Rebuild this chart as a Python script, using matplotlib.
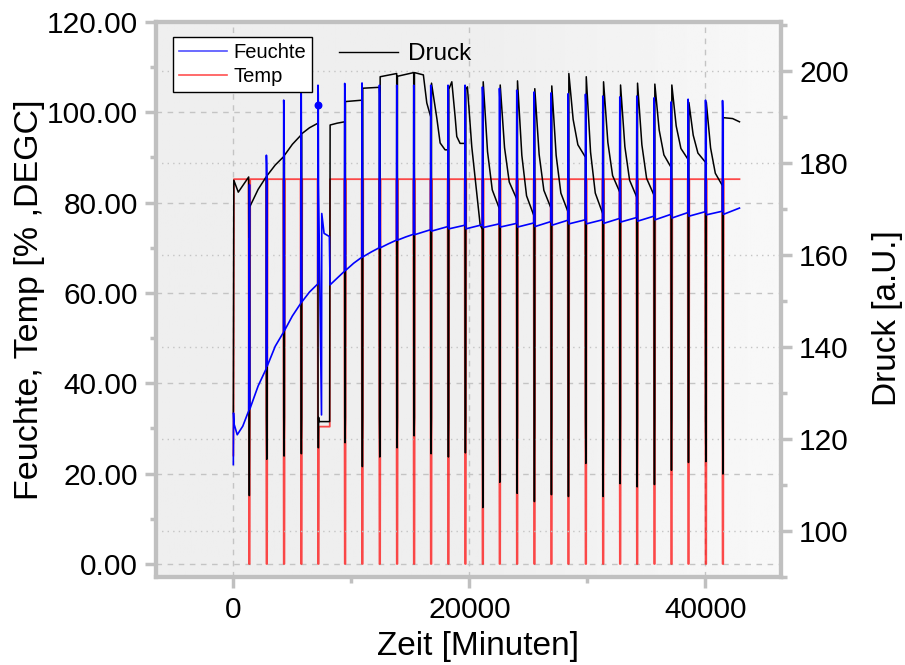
"""
Feuchte / Temp / Druck cycling test, recreated with matplotlib.
Left axis: humidity + temperature, right axis: pressure (a.U.).
"""

import matplotlib
matplotlib.use("Agg")
import matplotlib.pyplot as plt
import numpy as np
from matplotlib.lines import Line2D
from matplotlib.ticker import FormatStrFormatter, MultipleLocator

# ---------------------------------------------------------------------------
# data (time in minutes)
# ---------------------------------------------------------------------------

# daily purge spikes
spike_t = [1356, 2831, 4297, 5763, 7203, 9466, 10932, 12407, 13873, 15314,
           16754, 18220, 19661, 21136, 22576, 24042, 25508, 26949, 28390, 29864,
           31331, 32771, 34212, 35678, 37119, 38560, 40034, 41475]

# Temp [DEGC]
temp_start_t = [0, 20, 50]
temp_start_v = [24.0, 33.0, 85.2]
temp_hold = 85.2
temp_gap_after = 4            # spike index after which the chamber sat at ~30
temp_gap_t = [7250, 8170]
temp_gap_v = 30.4
t_end = 42880

# Feuchte [%] between the spikes
feuchte_t = [0, 15, 60, 330, 800, 1300,
             1400, 2100, 2780,
             2870, 3550, 4250,
             4340, 5000, 5710,
             5800, 6450, 7150,
             7470, 7492, 7687, 8136,
             8195, 8800, 9410,
             9510, 10200, 10880,
             10975, 11700, 12350,
             12450, 13150, 13820,
             13915, 14600, 15260,
             15355, 16700, 16795, 18165, 18260, 19605, 19700, 21080,
             21175, 22520, 22615, 23985, 24080, 25450, 25550, 26890,
             26990, 28335, 28430, 29810, 29905, 31275, 31370, 32715,
             32810, 34155, 34250, 35620, 35720, 37060, 37160, 38505,
             38600, 39980, 40075, 41420, 41515, 42880]
feuchte_v = [22.0, 33.4, 31.0, 28.6, 30.5, 33.9,
             34.3, 39.4, 43.2,
             43.8, 48.2, 51.3,
             51.7, 54.9, 57.7,
             58.0, 60.2, 62.0,
             33.0, 77.6, 73.2, 72.5,
             61.8, 63.3, 64.8,
             65.0, 66.6, 67.9,
             68.0, 69.1, 70.0,
             70.0, 70.9, 71.7,
             71.7, 72.4, 73.0,
             72.9, 74.0, 73.7, 74.7, 74.2, 75.0, 74.2, 75.1,
             74.5, 75.3, 74.6, 75.4, 74.6, 75.5, 74.7, 75.8,
             75.0, 76.1, 75.3, 76.2, 75.3, 76.2, 75.4, 76.5,
             75.7, 76.7, 75.9, 77.0, 76.2, 77.4, 76.6, 77.8,
             77.0, 78.0, 77.3, 78.1, 77.4, 78.8]
feuchte_peak = [72.0, 90.5, 102.7, 106.0, 106.0, 106.4, 106.5, 106.0, 106.0, 106.0,
                106.0, 106.0, 106.0, 105.6, 105.3, 104.9, 104.5, 104.3, 104.1, 104.0,
                103.6, 103.4, 103.6, 103.2, 102.3, 102.9, 102.7, 102.6]
feuchte_low = 84.0
feuchte_dot_t = [7203]
feuchte_dot_v = [101.6]

# Druck [a.U.] between the spikes
druck_t = [0, 40, 420, 900, 1300,
           1390, 2100, 2800,
           2860, 3550, 4255,
           4330, 5000, 5730,
           5795, 6450, 7170,
           7240, 8160, 8200, 8800, 9430,
           9500, 10900,
           10965, 12375,
           12440, 13840,
           13905, 14600, 15280,
           15345, 16100, 16390, 16720,
           16790, 17250, 17520, 17940, 18190,
           18255, 18510, 18790, 18930, 19210, 19630,
           19695, 19830, 20200, 20630, 20910, 21100,
           21170, 21536, 21936, 22540,
           22610, 22976, 23376, 24010,
           24075, 24442, 24842, 25475,
           25540, 25908, 26308, 26915,
           26980, 27349, 27749, 28355,
           28425, 28790, 29190, 29830,
           29900, 30264, 30664, 31300,
           31365, 31731, 32131, 32740,
           32805, 33171, 33571, 34180,
           34245, 34612, 35012, 35645,
           35710, 36078, 36478, 37085,
           37150, 37519, 37919, 38530,
           38595, 38960, 39360, 40000,
           40070, 40434, 40834, 41440,
           41510, 42300, 42880]
druck_v = [125.6, 176.2, 173.6, 175.4, 176.9,
           170.4, 174.2, 177.0,
           177.2, 179.5, 181.3,
           181.6, 184.0, 186.0,
           186.3, 187.6, 188.6,
           123.7, 123.7, 188.2, 188.6, 188.9,
           193.3, 193.6,
           196.2, 196.4,
           198.7, 199.4,
           198.8, 199.2, 199.6,
           199.6, 199.1, 193.0, 190.0,
           197.3, 189.5, 184.3, 182.8, 182.8,
           196.0, 197.6, 190.0, 185.7, 184.2, 184.2,
           196.0, 196.5, 183.5, 173.3, 166.5, 165.5,
           197.6, 182.4, 174.1, 170.0,
           196.9, 183.3, 175.8, 172.1,
           197.8, 181.6, 172.8, 168.4,
           196.1, 181.8, 174.0, 170.1,
           196.7, 181.6, 173.4, 169.3,
           199.4, 189.4, 183.9, 181.2,
           198.7, 182.3, 173.4, 168.9,
           197.6, 184.4, 177.2, 173.6,
           196.9, 183.5, 176.2, 172.5,
           197.3, 183.9, 176.6, 172.9,
           197.1, 187.1, 181.7, 179.0,
           196.9, 188.0, 183.1, 180.7,
           193.1, 186.0, 182.1, 180.1,
           193.2, 183.2, 177.7, 175.0,
           189.8, 189.6, 188.9]
druck_min = [107.6, 115.5, 116.2, 116.7, 118.0, 119.1, 113.9, 116.0, 118.0, 120.6,
             116.7, 116.0, 116.9, 105.0, 110.5, 108.1, 106.3, 107.8, 107.4, 114.6,
             107.4, 110.2, 109.5, 110.0, 113.1, 114.8, 115.0, 112.3]
druck_hold = 124.6

plt.rcParams["font.family"] = ["Liberation Sans", "DejaVu Sans"]


def _merge(base_t, base_v, extra):
    """Sort base points and spike points into one polyline."""
    pts = list(zip(base_t, base_v)) + extra
    pts.sort(key=lambda p: p[0])
    t, v = zip(*pts)
    return np.array(t), np.array(v)


# temperature: holds at 85 and drops to 0 at every spike
temp_pts = list(zip(temp_start_t, temp_start_v))
for i, t in enumerate(spike_t):
    temp_pts += [(t - 70, temp_hold), (t - 25, 0.0), (t + 30, 0.0)]
    if i == temp_gap_after:
        temp_pts += [(temp_gap_t[0], temp_gap_v), (temp_gap_t[1], temp_gap_v),
                     (temp_gap_t[1] + 20, temp_hold)]
    else:
        temp_pts += [(t + 75, temp_hold)]
temp_pts.append((t_end, temp_hold))
temp_t, temp_v = zip(*temp_pts)

# humidity: short overshoot then drop at every spike
f_extra = []
for t, pk in zip(spike_t, feuchte_peak):
    f_extra += [(t - 30, pk), (t - 8, pk - 2.0), (t + 12, feuchte_low)]
f_t, f_v = _merge(feuchte_t, feuchte_v, f_extra)

# pressure: short hold then dip at every spike
d_extra = []
for t, mn in zip(spike_t, druck_min):
    d_extra += [(t - 28, druck_hold), (t, mn), (t + 28, druck_hold)]
d_t, d_v = _merge(druck_t, druck_v, d_extra)

# ---------------------------------------------------------------------------
# figure: three stacked axes in the same box
#   ax_bg  - background, grid, temperature (bottom)
#   ax2    - pressure (middle, right scale)
#   ax     - humidity, ticks, legends (top, left scale)
# ---------------------------------------------------------------------------
XLIM = (-6550, 46400)
YLIM = (-2.9, 120)
YLIM2 = (89.9, 210.6)
rect = [0.1724, 0.1323, 0.6906, 0.8346]

fig = plt.figure(figsize=(9.05, 6.65), dpi=100)
ax_bg = fig.add_axes(rect, zorder=0)
ax = fig.add_axes(rect, zorder=2, sharex=ax_bg, sharey=ax_bg)
ax2 = ax.twinx()
ax2.set_zorder(1)
ax.patch.set_visible(False)
ax2.patch.set_visible(False)

# light grey gradient background, brighter toward the right
xs = np.linspace(0, 1, 256)
grad = np.where(xs < 0.55, 0.937, 0.937 + (xs - 0.55) / 0.45 * 0.036)
ax_bg.imshow(np.tile(grad, (2, 1)), cmap="gray", vmin=0, vmax=1, aspect="auto",
             extent=(0, 1, 0, 1), transform=ax_bg.transAxes, zorder=-1)

ax_bg.plot(temp_t, temp_v, color="#ff0000", lw=1.3, alpha=0.7, zorder=3)
ax2.plot(d_t, d_v, color="black", lw=1.1, zorder=3)
ax.plot(f_t, f_v, color="#0000ff", lw=1.2, zorder=3)
ax.scatter(feuchte_dot_t, feuchte_dot_v, s=22, color="#0000ff", zorder=4)

ax_bg.set_xlim(*XLIM)
ax_bg.set_ylim(*YLIM)
ax2.set_ylim(*YLIM2)

# grids: dashed for the left scale, dotted for the right one
ax_bg.grid(True, which="major", axis="both", color="#c4c4c4", lw=1.0,
           linestyle=(0, (4, 4)))
ax_bg.set_axisbelow(True)
ax2.grid(True, which="major", axis="y", color="#c4c4c4", lw=1.0,
         linestyle=(0, (1, 3)))
ax2.set_axisbelow(True)
ax_bg.tick_params(which="both", left=False, bottom=False,
                  labelleft=False, labelbottom=False)
for s in ax_bg.spines.values():
    s.set_visible(False)

ax.xaxis.set_major_locator(MultipleLocator(20000))
ax.xaxis.set_minor_locator(MultipleLocator(10000))
ax.yaxis.set_major_locator(MultipleLocator(20))
ax.yaxis.set_minor_locator(MultipleLocator(10))
ax.yaxis.set_major_formatter(FormatStrFormatter("%.2f"))
ax2.yaxis.set_major_locator(MultipleLocator(20))
ax2.yaxis.set_minor_locator(MultipleLocator(10))

frame = "#c0c0c0"
for a in (ax, ax2):
    for s in a.spines.values():
        s.set_color(frame)
        s.set_linewidth(3)
    a.tick_params(which="major", direction="out", length=8, width=2.5,
                  color=frame, labelsize=21.5, pad=5)
    a.tick_params(which="minor", direction="out", length=4, width=2.5,
                  color=frame)
ax.tick_params(axis="x", pad=6)

ax.set_xlabel("Zeit [Minuten]", fontsize=24)
ax.xaxis.set_label_coords(0.515, -0.098)
ax.set_ylabel("Feuchte, Temp [% ,DEGC]", fontsize=24.5, labelpad=1)
ax2.set_ylabel("Druck [a.U.]", fontsize=24)
ax2.yaxis.set_label_coords(1.1456, 0.467)

# legends
h_f = Line2D([], [], color="#5050ff", lw=1.2)
h_t = Line2D([], [], color="#ff5050", lw=1.2)
leg1 = ax.legend([h_f, h_t], ["Feuchte", "Temp"], loc="upper left",
                 bbox_to_anchor=(0.027, 0.973), fontsize=14.5, frameon=True,
                 fancybox=False, edgecolor="black", framealpha=1,
                 borderpad=0.3, handlelength=2.4, handletextpad=0.3,
                 labelspacing=0.25, borderaxespad=0)
leg1.get_frame().set_linewidth(1.0)
ax.add_artist(leg1)

h_d = Line2D([], [], color="black", lw=1.0)
leg2 = ax.legend([h_d], ["Druck"], loc="upper left",
                 bbox_to_anchor=(0.278, 0.979), fontsize=17.5, frameon=False,
                 handlelength=2.4, handletextpad=0.4, borderaxespad=0)

fig.savefig("out.png", dpi=100)
